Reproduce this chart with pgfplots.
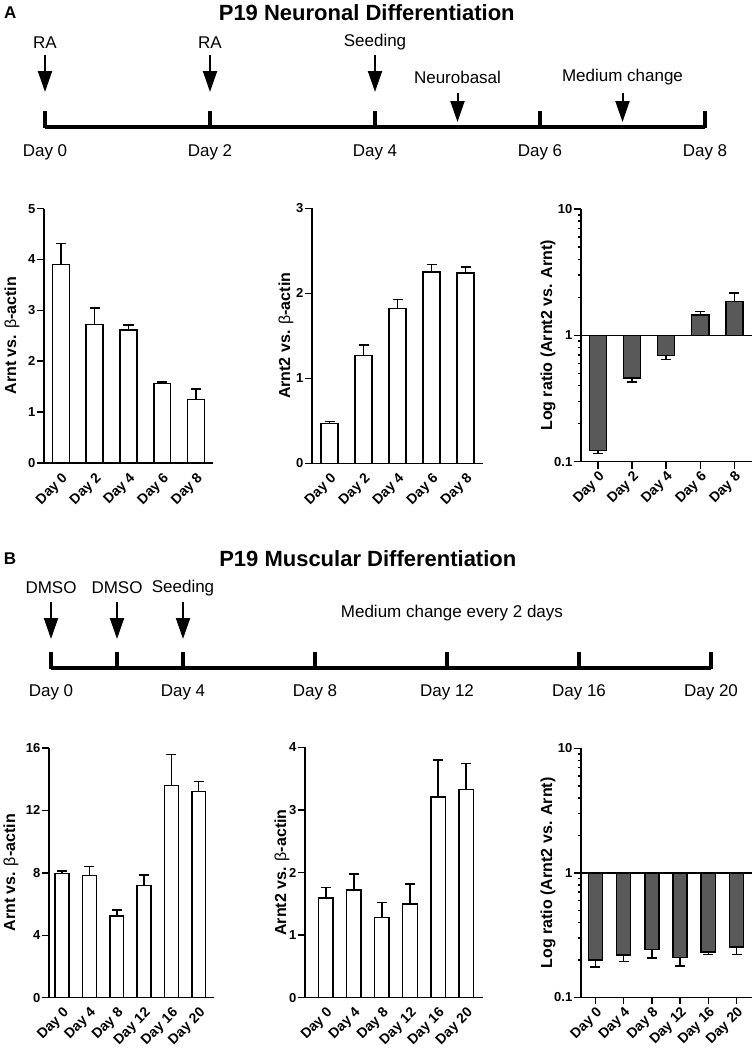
\documentclass[border=0pt]{standalone}
\usepackage{pgfplots}
\pgfplotsset{compat=1.18}
\usepackage{pgfplotstable}
\usepackage{fontspec}
\setmainfont{Liberation Sans}
\usetikzlibrary{arrows.meta}
\definecolor{barg}{RGB}{89,89,89}

\pgfplotstableread{
x y e
0 3.90 0.41
1 2.72 0.33
2 2.61 0.10
3 1.56 0.03
4 1.25 0.20
}\tabAa
\pgfplotstableread{
x y e
0 0.47 0.02
1 1.27 0.12
2 1.82 0.11
3 2.25 0.09
4 2.24 0.07
}\tabAb
\pgfplotstableread{
x y e
0 0.123 0.007
1 0.461 0.032
2 0.695 0.052
}\tabAcneg
\pgfplotstableread{
x y e
3 1.45 0.10
4 1.85 0.32
}\tabAcpos
\pgfplotstableread{
x y e
0 7.97 0.15
1 7.82 0.60
2 5.24 0.38
3 7.18 0.67
4 13.6 1.98
5 13.2 0.65
}\tabBa
\pgfplotstableread{
x y e
0 1.59 0.17
1 1.72 0.26
2 1.28 0.24
3 1.50 0.32
4 3.21 0.59
5 3.33 0.41
}\tabBb
\pgfplotstableread{
x y e
0 0.199 0.024
1 0.218 0.024
2 0.242 0.036
3 0.208 0.030
4 0.232 0.011
5 0.253 0.032
}\tabBc

\newcommand{\tl}{\fontsize{17}{17}\selectfont}
\pgfplotsset{
  barchart/.style={
    scale only axis, clip=false,
    axis x line=bottom, axis y line=left,
    axis line style={-, line width=1.5pt},
    ybar,
    xtick=data,
    tick align=outside,
    major tick length=7pt,
    every tick/.style={line width=1.5pt, black},
    yticklabel style={font=\bfseries\fontsize{13}{13}\selectfont, inner sep=1.5pt},
    xticklabel style={rotate=45, anchor=north east, font=\bfseries\fontsize{14}{14}\selectfont, inner sep=1pt},
    every axis plot/.append style={draw=black, line width=1.5pt},
    error bars/error bar style={line width=1.5pt, black},
    error bars/error mark options={rotate=90, line width=1.5pt, mark size=5pt, black},
  },
  ylab/.style={every axis y label/.style={at={(rel axis cs:0,0.5)}, xshift=-#1, rotate=90, anchor=center, font=\bfseries\fontsize{16}{16}\selectfont}},
  noxticks/.style={major x tick style={draw=none}},
}

\begin{document}
\begin{tikzpicture}
\path[use as bounding box] (0,0) rectangle (755pt,-1052pt);

% ---------- Timeline A ----------
\begin{axis}[at={(0pt,0pt)}, anchor=north west, scale only axis, width=755pt, height=170pt,
  xmin=-0.5455, xmax=8.606, ymin=-170, ymax=0, hide axis, clip=false]
  \node[font=\bfseries\fontsize{17}{17}\selectfont] at (axis cs:-0.42,-13) {A};
  \node[font=\bfseries\fontsize{22}{22}\selectfont] at (axis cs:3.9,-12.5) {P19 Neuronal Differentiation};
  \addplot[line width=4pt] coordinates {(0,-127) (8,-127)};
  \pgfplotsinvokeforeach{0,2,4,6,8}{
    \addplot[line width=4pt] coordinates {(#1,-111) (#1,-128)};
    \node[font=\tl] at (axis cs:#1,-152) {Day #1};
  }
  \pgfplotsinvokeforeach{0,2,4}{
    \addplot[line width=2pt, -{Triangle[width=14pt,length=21pt]}] coordinates {(#1,-55) (#1,-92)};
  }
  \pgfplotsinvokeforeach{5,7}{
    \addplot[line width=2pt, -{Triangle[width=14pt,length=21pt]}] coordinates {(#1,-93) (#1,-122)};
  }
  \node[font=\tl] at (axis cs:0,-42.5) {RA};
  \node[font=\tl] at (axis cs:2,-42.5) {RA};
  \node[font=\tl] at (axis cs:4,-42.5) {Seeding};
  \node[font=\tl] at (axis cs:5,-77.5) {Neurobasal};
  \node[font=\tl] at (axis cs:7,-77.5) {Medium change};
\end{axis}

% ---------- A charts ----------
\begin{axis}[barchart, noxticks, ylab=32pt, at={(44pt,-463pt)}, anchor=south west,
  width=169pt, height=254.4pt, xmin=-0.5, xmax=4.5, ymin=0, ymax=5, bar width=0.5,
  ytick={0,1,2,3,4,5}, yticklabels={0,1,2,3,4,5},
  xticklabels={Day 0,Day 2,Day 4,Day 6,Day 8},
  ylabel={Arnt vs. {\mdseries β}-actin}]
  \addplot[fill=white, error bars/.cd, y dir=plus, y explicit] table[x=x, y=y, y error=e] {\tabAa};
\end{axis}

\begin{axis}[barchart, noxticks, ylab=26pt, at={(312pt,-463.3pt)}, anchor=south west,
  width=170.7pt, height=255pt, xmin=-0.52, xmax=4.5, ymin=0, ymax=3, bar width=0.5,
  ytick={0,1,2,3}, yticklabels={0,1,2,3},
  xticklabels={Day 0,Day 2,Day 4,Day 6,Day 8},
  ylabel={Arnt2 vs. {\mdseries β}-actin}]
  \addplot[fill=white, error bars/.cd, y dir=plus, y explicit] table[x=x, y=y, y error=e] {\tabAb};
\end{axis}

\begin{axis}[barchart, ylab=33pt, at={(581pt,-461.7pt)}, anchor=south west,
  width=170.7pt, height=252.7pt, xmin=-0.5, xmax=4.51, ymode=log, log origin y=0,
  ymin=0.1, ymax=10, bar width=0.5,
  ytick={0.1,1,10}, yticklabels={0.1,1,10}, minor ytick={},
  xtick={0,1,2,3,4}, xticklabels={Day 0,Day 2,Day 4,Day 6,Day 8},
  ylabel={Log ratio (Arnt2 vs. Arnt)}]
  \addplot[fill=barg, bar shift=0pt, error bars/.cd, y dir=minus, y explicit] table[x=x, y=y, y error=e] {\tabAcneg};
  \addplot[fill=barg, bar shift=0pt, error bars/.cd, y dir=plus, y explicit] table[x=x, y=y, y error=e] {\tabAcpos};
  \draw[line width=1.5pt] (rel axis cs:0,0.5) -- (rel axis cs:1,0.5);
\end{axis}

% ---------- Timeline B ----------
\begin{axis}[at={(0pt,-520pt)}, anchor=north west, scale only axis, width=755pt, height=200pt,
  xmin=-1.5455, xmax=21.333, ymin=-720, ymax=-520, hide axis, clip=false]
  \node[font=\bfseries\fontsize{17}{17}\selectfont] at (axis cs:-1.24,-559) {B};
  \node[font=\bfseries\fontsize{22}{22}\selectfont] at (axis cs:9.6,-559) {P19 Muscular Differentiation};
  \addplot[line width=4pt] coordinates {(0,-668) (20,-668)};
  \pgfplotsinvokeforeach{0,2,4,8,12,16,20}{
    \addplot[line width=4pt] coordinates {(#1,-652) (#1,-669)};
  }
  \pgfplotsinvokeforeach{0,4,8,12,16,20}{
    \node[font=\tl] at (axis cs:#1,-692) {Day #1};
  }
  \pgfplotsinvokeforeach{0,2,4}{
    \addplot[line width=2pt, -{Triangle[width=14pt,length=21pt]}] coordinates {(#1,-602) (#1,-639)};
  }
  \node[font=\tl] at (axis cs:0,-588) {DMSO};
  \node[font=\tl] at (axis cs:2,-588) {DMSO};
  \node[font=\tl] at (axis cs:4,-588) {Seeding};
  \node[font=\tl] at (axis cs:12.15,-613) {Medium change every 2 days};
\end{axis}

% ---------- B charts ----------
\begin{axis}[barchart, noxticks, ylab=38pt, at={(49pt,-997.7pt)}, anchor=south west,
  width=165.3pt, height=249.7pt, xmin=-0.48, xmax=5.57, ymin=0, ymax=16, bar width=0.51,
  ytick={0,4,8,12,16}, yticklabels={0,4,8,12,16},
  xticklabels={Day 0,Day 4,Day 8,Day 12,Day 16,Day 20},
  ylabel={Arnt vs. {\mdseries β}-actin}]
  \addplot[fill=white, error bars/.cd, y dir=plus, y explicit] table[x=x, y=y, y error=e] {\tabBa};
\end{axis}

\begin{axis}[barchart, noxticks, ylab=23pt, at={(305pt,-997.7pt)}, anchor=south west,
  width=177.7pt, height=250.4pt, xmin=-0.74, xmax=5.59, ymin=0, ymax=4, bar width=0.52,
  ytick={0,1,2,3,4}, yticklabels={0,1,2,3,4},
  xticklabels={Day 0,Day 4,Day 8,Day 12,Day 16,Day 20},
  ylabel={Arnt2 vs. {\mdseries β}-actin}]
  \addplot[fill=white, error bars/.cd, y dir=plus, y explicit] table[x=x, y=y, y error=e] {\tabBb};
\end{axis}

\begin{axis}[barchart, ylab=33pt, at={(581pt,-997.3pt)}, anchor=south west,
  width=171.3pt, height=249pt, xmin=-0.51, xmax=5.56, ymode=log, log origin y=0,
  ymin=0.1, ymax=10, bar width=0.5,
  ytick={0.1,1,10}, yticklabels={0.1,1,10}, minor ytick={},
  xticklabels={Day 0,Day 4,Day 8,Day 12,Day 16,Day 20},
  ylabel={Log ratio (Arnt2 vs. Arnt)}]
  \addplot[fill=barg, error bars/.cd, y dir=minus, y explicit] table[x=x, y=y, y error=e] {\tabBc};
  \draw[line width=1.5pt] (rel axis cs:0,0.5) -- (rel axis cs:1,0.5);
\end{axis}
\end{tikzpicture}
\end{document}
